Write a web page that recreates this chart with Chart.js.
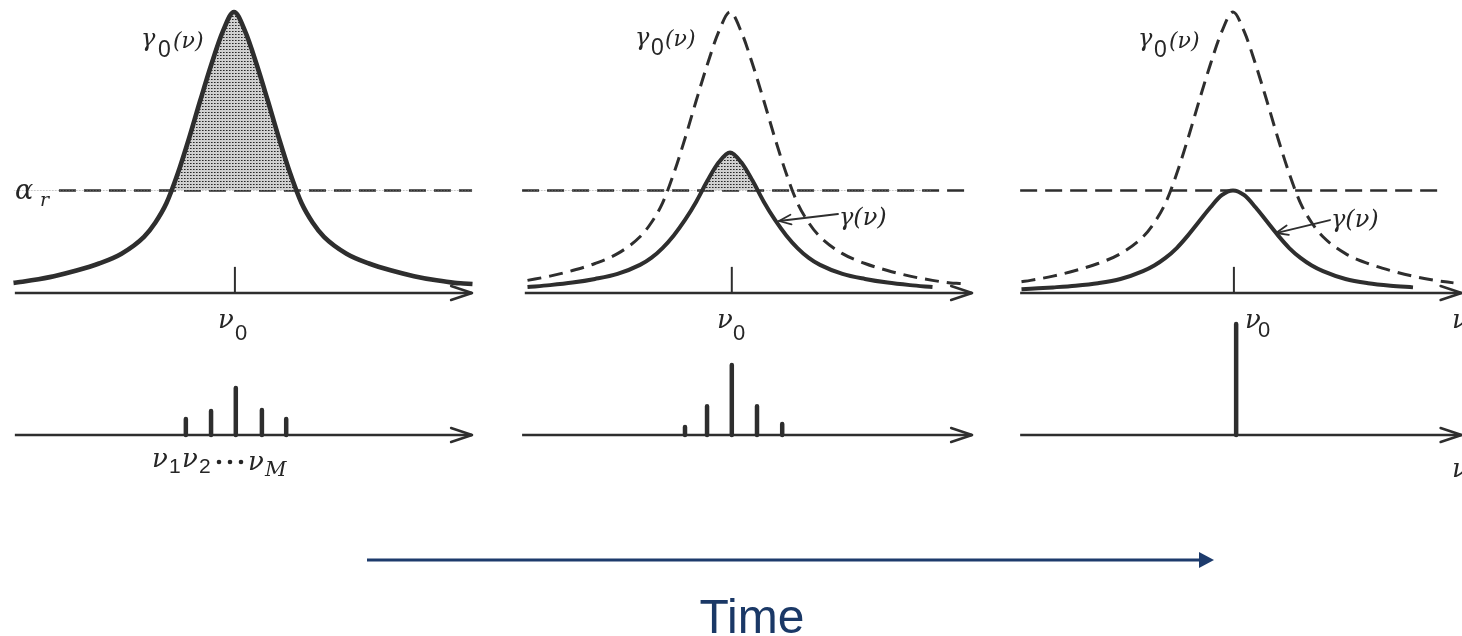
<!DOCTYPE html>
<html><head><meta charset="utf-8">
<script src="https://cdn.jsdelivr.net/npm/chart.js@4/dist/chart.umd.min.js"></script>
<style>html,body{margin:0;padding:0;background:#fff;overflow:hidden}canvas{display:block}</style>
</head><body>
<canvas id="c" width="1462" height="636"></canvas>
<script>
// ---- data (x in units of linewidth, y relative to gamma0 peak) ----
const gainNu   = [-4.9,-4.7,-4.5,-4,-3.5,-3,-2.5,-2,-1.75,-1.5,-1.25,-1,-0.75,-0.5,-0.25,0,0.25,0.5,0.75,1,1.25,1.5,1.75,2,2.5,3,3.5,4,4.5,4.9,5.1,5.3];
const gamma0   = [0.036,0.040,0.045,0.060,0.080,0.105,0.140,0.200,0.250,0.320,0.425,0.550,0.685,0.815,0.930,1.000,0.930,0.815,0.685,0.550,0.425,0.320,0.250,0.200,0.140,0.105,0.080,0.060,0.045,0.036,0.034,0.032];
const gammaMid = [0.018,0.019,0.021,0.028,0.037,0.050,0.068,0.100,0.125,0.160,0.205,0.260,0.325,0.400,0.465,0.500,0.465,0.400,0.325,0.260,0.205,0.160,0.125,0.100,0.068,0.050,0.037,0.028,0.021,0.018,0.017,0.015];
const gammaEnd = [0.012,0.013,0.015,0.020,0.026,0.035,0.050,0.078,0.098,0.125,0.160,0.205,0.255,0.305,0.348,0.365,0.348,0.305,0.255,0.205,0.160,0.125,0.098,0.078,0.050,0.035,0.026,0.020,0.015,0.012,0.011,0.010];
const alphaR   = 0.365;
const nu0Mark  = [0.02, 0.04, 0.02];
const nu0MarkH = 0.093;
const modeNu1  = [-1.07,-0.51,0.04,0.62,1.16];
const modeAmp1 = [0.144,0.216,0.423,0.225,0.144];
const modeNu2  = [-1.00,-0.51,0.04,0.60,1.16];
const modeAmp2 = [0.072,0.260,0.630,0.260,0.100];
const modeNu3  = [0.07];
const modeAmp3 = [1.0];

// ---- layout / style ----
const W = 1462, H = 636, U = 45;           // px per linewidth unit
const centers = [234, 730, 1233];
const INK = '#2e2e2e';
const TXT = '#262626';

function stipple(){
  const c = document.createElement('canvas'); c.width = 3; c.height = 3;
  const g = c.getContext('2d');
  g.fillStyle = '#d0d0d0'; g.fillRect(0,0,3,3);
  g.fillStyle = '#282828'; g.fillRect(1,1,1,1);
  g.fillStyle = '#6e6e6e'; g.fillRect(2,1,1,1);
  return g.createPattern(c,'repeat');
}
const DOTS = stipple();

function pts(vals, lo, hi){
  return gainNu.map((x,i)=>({x, y: vals[i]})).filter(p => p.x >= lo-1e-9 && p.x <= hi+1e-9);
}
function flat(y, lo, hi){ return gainNu.filter(x => x>=lo-1e-9 && x<=hi+1e-9).map(x=>({x,y})); }
function seg(x0,y0,x1,y1){ return [{x:x0,y:y0},{x:x1,y:y1}]; }
function stems(xs, hs){
  const out = [];
  xs.forEach((x,k)=>{ out.push({x, y:0}, {x, y:hs[k]}, {x, y:null}); });
  return out;
}

const scales = {
  yT: {type:'linear', display:false, offset:false, grace:0, min:(293-H)/281, max:293/281},
  yB: {type:'linear', display:false, offset:false, grace:0, min:(435-H)/111, max:435/111}
};
centers.forEach((c,i)=>{
  scales['x'+(i+1)] = {type:'linear', position:'bottom', display:false, offset:false, grace:0, min:-c/U, max:(W-c)/U};
});

const line = (o) => Object.assign({type:'line', pointRadius:0, borderColor:INK, fill:false,
  cubicInterpolationMode:'monotone', yAxisID:'yT'}, o);

const ds = [];
// Panel 1
ds.push(line({xAxisID:'x1', data: flat(alphaR,-4.9,5.3), borderWidth:0, borderColor:'rgba(0,0,0,0)'}));
ds.push(line({xAxisID:'x1', data: pts(gamma0,-4.9,5.3), borderWidth:4.6,
  fill:{target:'-1', above:DOTS, below:'rgba(0,0,0,0)'}}));
ds.push(line({xAxisID:'x1', data: seg(-3.89,alphaR,5.29,alphaR), borderWidth:2.5, borderDash:[17,8]}));
ds.push(line({xAxisID:'x1', data: seg(-4.87,0,5.29,0), borderWidth:2.5, arrowHead:true}));
ds.push(line({xAxisID:'x1', data: seg(nu0Mark[0],0,nu0Mark[0],nu0MarkH), borderWidth:2}));
// Panel 2
ds.push(line({xAxisID:'x2', data: pts(gamma0,-4.6,5.3), borderWidth:3, borderDash:[14,8]}));
ds.push(line({xAxisID:'x2', data: flat(alphaR,-4.6,4.5), borderWidth:0, borderColor:'rgba(0,0,0,0)'}));
ds.push(line({xAxisID:'x2', data: pts(gammaMid,-4.6,4.5), borderWidth:4,
  fill:{target:'-1', above:DOTS, below:'rgba(0,0,0,0)'}}));
ds.push(line({xAxisID:'x2', data: seg(-4.62,alphaR,5.38,alphaR), borderWidth:2.5, borderDash:[17,8]}));
ds.push(line({xAxisID:'x2', data: seg(-4.56,0,5.38,0), borderWidth:2.5, arrowHead:true}));
ds.push(line({xAxisID:'x2', data: seg(nu0Mark[1],0,nu0Mark[1],nu0MarkH), borderWidth:2}));
// Panel 3
ds.push(line({xAxisID:'x3', data: pts(gamma0,-4.75,4.9), borderWidth:3, borderDash:[14,8]}));
ds.push(line({xAxisID:'x3', data: pts(gammaEnd,-4.75,4.1), borderWidth:4}));
ds.push(line({xAxisID:'x3', data: seg(-4.73,alphaR,4.56,alphaR), borderWidth:2.5, borderDash:[17,8]}));
ds.push(line({xAxisID:'x3', data: seg(-4.73,0,5.08,0), borderWidth:2.5, arrowHead:true}));
ds.push(line({xAxisID:'x3', data: seg(nu0Mark[2],0,nu0Mark[2],nu0MarkH), borderWidth:2}));
// Bottom mode spectra
[[modeNu1,modeAmp1,[-4.87,5.29]],[modeNu2,modeAmp2,[-4.62,5.38]],[modeNu3,modeAmp3,[-4.73,5.08]]].forEach((m,i)=>{
  const ax = 'x'+(i+1);
  ds.push(line({xAxisID:ax, yAxisID:'yB', data: seg(m[2][0],0,m[2][1],0), borderWidth:2.5, arrowHead:true}));
  ds.push(line({xAxisID:ax, yAxisID:'yB', data: stems(m[0],m[1]), borderWidth:4.5,
    cubicInterpolationMode:'default', tension:0, spanGaps:false, borderCapStyle:'round'}));
});

function txt(ctx, s, x, y, font, align){
  ctx.font = font; ctx.textAlign = align || 'left'; ctx.textBaseline = 'alphabetic';
  ctx.fillText(s, x, y);
}
const GI = (s)=>'italic '+s+'px "DejaVu Serif", "Liberation Serif", serif';
const SN = (s)=>s+'px "Liberation Sans", Arial, sans-serif';

function pointer(ctx, x0,y0,x1,y1){
  ctx.beginPath(); ctx.moveTo(x0,y0); ctx.lineTo(x1,y1); ctx.stroke();
  const a = Math.atan2(y1-y0, x1-x0), L = 13, s = 0.38;
  ctx.beginPath();
  ctx.moveTo(x1 - L*Math.cos(a-s), y1 - L*Math.sin(a-s));
  ctx.lineTo(x1,y1);
  ctx.lineTo(x1 - L*Math.cos(a+s), y1 - L*Math.sin(a+s));
  ctx.stroke();
}

const deco = {
  id:'deco',
  afterDatasetsDraw(chart){
    const ctx = chart.ctx;
    ctx.save();
    ctx.strokeStyle = INK; ctx.lineWidth = 2.4; ctx.lineCap = 'round'; ctx.lineJoin = 'round';
    chart.data.datasets.forEach((d,i)=>{
      if(!d.arrowHead) return;
      const meta = chart.getDatasetMeta(i);
      const p = meta.data[meta.data.length-1];
      ctx.beginPath(); ctx.moveTo(p.x-21,p.y-7); ctx.lineTo(p.x,p.y); ctx.lineTo(p.x-21,p.y+7); ctx.stroke();
    });
    // pointer arrows to gamma(nu)
    ctx.lineWidth = 1.8;
    pointer(ctx, 838,214, 779,221);
    pointer(ctx, 1330,220, 1276,233);

    ctx.fillStyle = TXT;
    // gamma0(nu) labels
    [[141,46,158,57,173,48],[635,45,651,55,665,46],[1138,46,1154,57,1169,48]].forEach(a=>{
      txt(ctx,'\u03B3',a[0],a[1],GI(24));
      txt(ctx,'0',a[2],a[3],SN(23));
      txt(ctx,'(\u03BD)',a[4],a[5],GI(22));
    });
    // gamma(nu) labels
    txt(ctx,'\u03B3(\u03BD)',839,225,GI(24));
    txt(ctx,'\u03B3(\u03BD)',1331,227,GI(24));
    // alpha_r
    txt(ctx,'\u03B1',15,199,GI(27));
    txt(ctx,'r',40,206,GI(19));
    // nu0 labels
    [[218,328,235,340],[717,328,733,340],[1245,328,1258,337]].forEach(a=>{
      txt(ctx,'\u03BD',a[0],a[1],GI(26));
      txt(ctx,'0',a[2],a[3],SN(22));
    });
    // nu1 nu2 ... nuM
    txt(ctx,'\u03BD',152,467,GI(26)); txt(ctx,'1',169,473,SN(21));
    txt(ctx,'\u03BD',182,467,GI(26)); txt(ctx,'2',199,473,SN(21));
    [219,230,241].forEach(x=>{ctx.beginPath();ctx.arc(x,462,2.3,0,Math.PI*2);ctx.fill();});
    txt(ctx,'\u03BD',248,470,GI(26)); txt(ctx,'M',265,476,GI(21));
    // clipped axis labels at right edge
    txt(ctx,'\u03BD',1452,328,GI(26));
    txt(ctx,'\u03BD',1452,477,GI(26));

    // Time arrow
    ctx.strokeStyle = '#1d3b6c'; ctx.fillStyle = '#1d3b6c'; ctx.lineWidth = 3; ctx.lineCap = 'butt';
    ctx.beginPath(); ctx.moveTo(367,560); ctx.lineTo(1201,560); ctx.stroke();
    ctx.beginPath(); ctx.moveTo(1214,560); ctx.lineTo(1199,552); ctx.lineTo(1199,568); ctx.closePath(); ctx.fill();
    ctx.fillStyle = '#1a3866';
    txt(ctx,'Time',752,633,SN(48),'center');
    ctx.restore();
  }
};

new Chart(document.getElementById('c'), {
  type:'line',
  data:{datasets: ds},
  options:{
    responsive:false, animation:false, devicePixelRatio:1,
    layout:{padding:0, autoPadding:false},
    plugins:{legend:{display:false}, tooltip:{enabled:false}, title:{display:false}},
    scales
  },
  plugins:[deco]
});
</script>
</body></html>
